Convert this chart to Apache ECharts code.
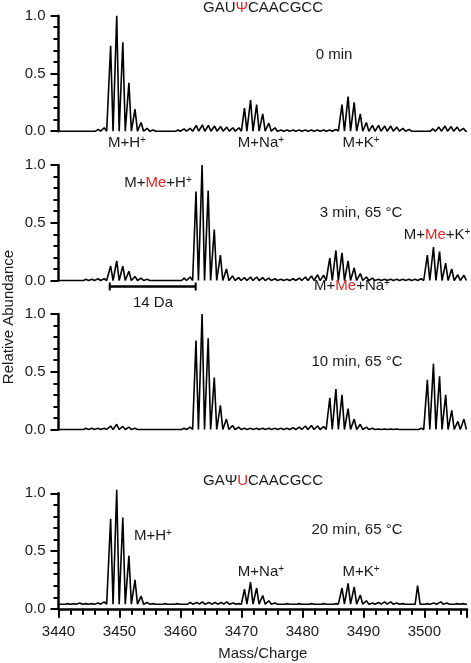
<!DOCTYPE html>
<html><head><meta charset="utf-8">
<script src="https://cdn.jsdelivr.net/npm/echarts/dist/echarts.min.js"></script>
<style>html,body{margin:0;padding:0;background:#fff}#c{width:471px;height:663px}</style>
</head><body><div id="c"></div>
<script>
// ---- axis settings ----
const xMin = 3440, xMax = 3507, xInterval = 10;
const yTickLabels = ['0.0', '0.5', '1.0'];
const panelNames = ['0 min', '3 min, 65 °C', '10 min, 65 °C', '20 min, 65 °C'];

// ---- panel 1: 0 min (peak m/z and relative abundance) ----
const mz0 = [3446.5,3447.5,3448.55,3449.55,3450.55,3451.55,3452.55,3453.55,3454.55,3455.55,
  3459.6,3460.6,3461.6,3462.6,3463.6,3464.6,3465.6,3466.6,3467.6,3468.6,3469.6,
  3470.5,3471.5,3472.5,3473.5,3474.5,3475.5,3476.5,3477.5,3478.5,3479.5,3480.5,3481.5,3482.5,3483.5,3484.5,3485.5,
  3486.5,3487.5,3488.5,3489.5,3490.5,3491.5,3492.5,3493.5,3494.5,3495.5,3496.5,3497.5,
  3501.4,3502.4,3503.4,3504.4,3505.4,3506.4];
const ab0 = [0.015,0.03,0.74,1.0,0.77,0.42,0.19,0.075,0.025,0.01,
  0.01,0.02,0.025,0.05,0.055,0.05,0.045,0.04,0.035,0.03,0.03,
  0.20,0.27,0.23,0.15,0.07,0.03,0.01,0.01,0.01,0.01,0.01,0.01,0.01,0.01,0.01,0.015,
  0.23,0.30,0.25,0.15,0.075,0.05,0.05,0.045,0.045,0.035,0.025,0.015,
  0.02,0.035,0.045,0.04,0.035,0.025];
const base0 = 0;

// ---- panel 2: 3 min, 65 °C ----
const mz1 = [3444.5,3445.5,3446.5,3447.5,3448.55,3449.55,3450.55,3451.55,3452.55,3453.55,3454.55,
  3460.6,3461.6,3462.55,3463.55,3464.55,3465.55,3466.55,3467.55,3468.55,3469.55,
  3470.5,3471.5,3472.5,3473.5,3474.5,3475.5,3476.5,3477.5,3478.5,3479.5,3480.5,3481.5,3482.5,3483.5,
  3484.5,3485.5,3486.5,3487.5,3488.5,3489.5,3490.5,3491.5,3492.5,3493.5,3494.5,3495.5,3496.5,3497.5,3498.5,3499.5,
  3500.5,3501.5,3502.5,3503.5,3504.5,3505.5,3506.5];
const ab1 = [0.01,0.01,0.015,0.015,0.125,0.17,0.125,0.08,0.035,0.02,0.01,
  0.02,0.03,0.77,1.0,0.78,0.44,0.22,0.10,0.04,0.025,
  0.025,0.03,0.03,0.025,0.02,0.015,0.01,0.01,0.015,0.02,0.03,0.04,0.05,0.045,
  0.195,0.26,0.24,0.17,0.11,0.06,0.03,0.02,0.01,0.01,0.01,0.01,0.01,0.01,0.01,0.015,
  0.22,0.29,0.25,0.15,0.10,0.05,0.045];
const base1 = 0;

// ---- panel 3: 10 min, 65 °C ----
const mz2 = [3444.5,3445.5,3446.5,3447.5,3448.55,3449.55,3450.55,3451.55,3452.55,
  3460.6,3461.6,3462.55,3463.55,3464.55,3465.55,3466.55,3467.55,3468.55,3469.55,
  3470.5,3471.5,3472.5,3473.5,3474.5,3475.5,3476.5,3477.5,3478.5,3479.5,3480.5,3481.5,3482.5,3483.5,
  3484.5,3485.5,3486.5,3487.5,3488.5,3489.5,3490.5,3491.5,3492.5,3493.5,3494.5,3495.5,3499.5,
  3500.5,3501.5,3502.5,3503.5,3504.5,3505.5,3506.5];
const ab2 = [0.01,0.01,0.01,0.01,0.03,0.045,0.027,0.02,0.01,
  0.01,0.02,0.77,1.0,0.79,0.45,0.21,0.09,0.035,0.02,
  0.01,0.01,0.01,0.01,0.01,0.01,0.01,0.01,0.015,0.02,0.03,0.035,0.03,0.025,
  0.275,0.35,0.30,0.18,0.09,0.045,0.02,0.01,0.005,0.005,0.005,0.005,0.01,
  0.43,0.57,0.46,0.30,0.165,0.07,0.09];
const base2 = 0;

// ---- panel 4: 20 min, 65 °C ----
const mz3 = [3441.5,3442.5,3443.5,3444.5,3445.5,3446.5,3447.5,3448.55,3449.55,3450.55,3451.55,3452.55,3453.55,3454.55,3455.55,
  3457.5,3459.5,3461.6,3462.7,3463.6,3464.7,3465.7,3466.7,3467.6,3468.7,3469.6,
  3470.5,3471.5,3472.5,3473.5,3474.5,3475.5,3477.5,3479.5,3481.5,3483.5,3485.5,
  3486.5,3487.5,3488.5,3489.5,3490.5,3491.5,3492.5,3493.5,3494.5,3495.5,3496.5,
  3498.9,3500.5,3501.6,3502.7,3503.7,3505.4,3506.4];
const ab3 = [0.045,0.045,0.05,0.045,0.045,0.05,0.06,0.78,1.03,0.79,0.46,0.25,0.11,0.055,0.045,
  0.045,0.045,0.055,0.055,0.06,0.055,0.055,0.055,0.06,0.05,0.045,
  0.17,0.23,0.18,0.115,0.07,0.05,0.045,0.045,0.045,0.045,0.045,
  0.18,0.22,0.19,0.12,0.07,0.05,0.055,0.06,0.06,0.05,0.045,
  0.20,0.045,0.05,0.06,0.05,0.045,0.045];
const base3 = 0.04;

// scale bar (14 Da) drawn in panel 2, in data units
const scaleBarMz = [3448.4, 3462.5];
const scaleBarY = -0.052;

const F = '"Liberation Sans", Arial, Helvetica, sans-serif';
const TXT = '#1a1a1a';
const RED = '#e32526';

function buildTrace(mz, ab, base) {
  const hw = 0.4;
  const pts = [[xMin, base]];
  for (let i = 0; i < mz.length; i++) {
    pts.push([mz[i] - hw, base], [mz[i], ab[i]], [mz[i] + hw, base]);
  }
  pts.push([xMax, base]);
  return pts;
}

const traces = [
  buildTrace(mz0, ab0, base0),
  buildTrace(mz1, ab1, base1),
  buildTrace(mz2, ab2, base2),
  buildTrace(mz3, ab3, base3)
];

const gridTops = [15.7, 165, 314, 493.3];
const gridH = 115.5;
const grids = gridTops.map(t => ({
  left: 58.5, right: 4, top: t, height: gridH, containLabel: false, outerBoundsMode: 'none'
}));

const xAxes = gridTops.map((t, i) => {
  const last = i === gridTops.length - 1;
  return {
    gridIndex: i, type: 'value', min: xMin, max: xMax, interval: xInterval,
    show: last,
    name: last ? 'Mass/Charge' : '',
    nameLocation: 'middle', nameGap: 38,
    nameTextStyle: {fontFamily: F, fontSize: 15, color: TXT},
    axisLine: {show: true, onZero: false, lineStyle: {color: '#000', width: 2.5}},
    axisTick: {show: true, length: 9, lineStyle: {color: '#000', width: 2}},
    minorTick: {show: true, splitNumber: 5, length: 6, lineStyle: {color: '#000', width: 2}},
    axisLabel: {fontFamily: F, fontSize: 15, color: TXT, margin: 16,
      showMaxLabel: false, formatter: v => String(v)},
    splitLine: {show: false}, minorSplitLine: {show: false}
  };
});

const yAxes = gridTops.map((t, i) => ({
  gridIndex: i, type: 'value', min: 0, max: 1, interval: 0.5,
  axisLine: {show: true, lineStyle: {color: '#000', width: 2.5}},
  axisTick: {show: true, length: 8, lineStyle: {color: '#000', width: 2}},
  minorTick: {show: true, splitNumber: 5, length: 5, lineStyle: {color: '#000', width: 2}},
  axisLabel: {fontFamily: F, fontSize: 15, color: TXT, margin: 13,
    formatter: v => yTickLabels[Math.round(v / 0.5)]},
  splitLine: {show: false}, minorSplitLine: {show: false}
}));

const series = traces.map((d, i) => ({
  type: 'line', xAxisIndex: i, yAxisIndex: i, data: d,
  showSymbol: false, symbol: 'none', clip: false,
  lineStyle: {color: '#000', width: 1.6}, silent: true
}));
series.push({
  type: 'line', xAxisIndex: 1, yAxisIndex: 1, clip: false,
  data: scaleBarMz.map(m => [m, scaleBarY]),
  symbol: 'rect', symbolSize: [2, 8], showSymbol: true,
  itemStyle: {color: '#000'}, lineStyle: {color: '#000', width: 2.5}, silent: true
});

const rich = {
  n: {fontSize: 15, fontFamily: F, fill: TXT, verticalAlign: 'bottom'},
  r: {fontSize: 15, fontFamily: F, fill: RED, verticalAlign: 'bottom'},
  s: {fontSize: 10, fontFamily: F, fill: TXT, verticalAlign: 'bottom', padding: [0, 0, 5, 0]}
};
function label(x, y, text) {
  return {type: 'text', x: x, y: y, silent: true,
    style: {text: text, rich: rich, align: 'center', verticalAlign: 'middle', fontFamily: F, fontSize: 15, fill: TXT}};
}

const graphics = [
  label(263, 8, '{n|GAU}{r|Ψ}{n|CAACGCC}'),
  label(334, 55, '{n|' + panelNames[0] + '}'),
  label(127, 143, '{n|M+H}{s|+}'),
  label(261, 143, '{n|M+Na}{s|+}'),
  label(361, 143, '{n|M+K}{s|+}'),
  label(158, 183, '{n|M+}{r|Me}{n|+H}{s|+}'),
  label(361, 213, '{n|' + panelNames[1] + '}'),
  label(437, 235, '{n|M+}{r|Me}{n|+K}{s|+}'),
  label(153, 303, '{n|14 Da}'),
  label(352, 286, '{n|M+}{r|Me}{n|+Na}{s|+}'),
  label(357, 362, '{n|' + panelNames[2] + '}'),
  label(263, 481, '{n|GAΨ}{r|U}{n|CAACGCC}'),
  label(357, 530, '{n|' + panelNames[3] + '}'),
  label(153, 536, '{n|M+H}{s|+}'),
  label(261, 572, '{n|M+Na}{s|+}'),
  label(361, 572, '{n|M+K}{s|+}'),
  {type: 'text', x: 9, y: 317, rotation: Math.PI / 2, silent: true,
    style: {text: 'Relative Abundance', align: 'center', verticalAlign: 'middle', fontFamily: F, fontSize: 15, fill: TXT}}
];

const chart = echarts.init(document.getElementById('c'), null, {renderer: 'canvas'});
chart.setOption({
  animation: false,
  backgroundColor: '#fff',
  grid: grids, xAxis: xAxes, yAxis: yAxes, series: series,
  graphic: graphics
});
</script></body></html>
